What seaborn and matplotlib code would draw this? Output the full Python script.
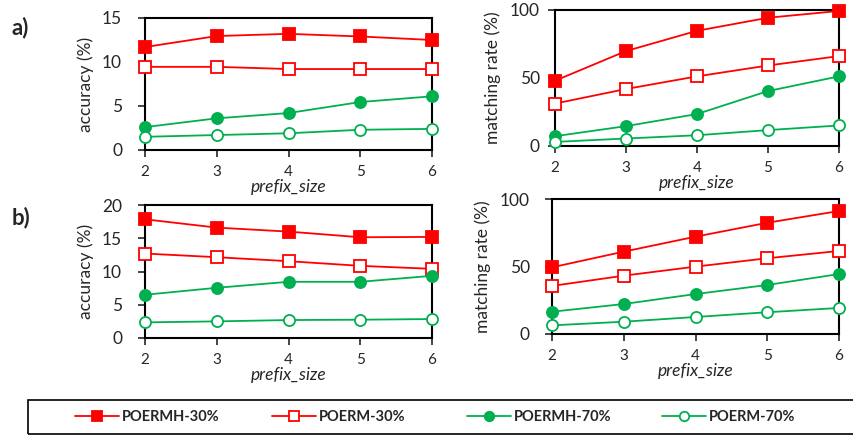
import seaborn as sns
import matplotlib.pyplot as plt
from matplotlib.patches import Rectangle

prefix_size = [2, 3, 4, 5, 6]
series_names = ['POERMH-30%', 'POERM-30%', 'POERMH-70%', 'POERM-70%']

# a) accuracy / matching rate
acc_a = {
    'POERMH-30%': [11.7, 12.95, 13.2, 12.9, 12.5],
    'POERM-30%': [9.45, 9.45, 9.2, 9.2, 9.2],
    'POERMH-70%': [2.6, 3.6, 4.2, 5.45, 6.1],
    'POERM-70%': [1.5, 1.7, 1.9, 2.3, 2.4],
}
match_a = {
    'POERMH-30%': [48, 69.8, 84.7, 94.3, 99.3],
    'POERM-30%': [31.2, 41.9, 51.2, 59.2, 66.1],
    'POERMH-70%': [7.2, 14.6, 23.5, 40.4, 51.2],
    'POERM-70%': [3, 5.5, 7.9, 11.7, 15.1],
}
# b) accuracy / matching rate
acc_b = {
    'POERMH-30%': [17.85, 16.6, 16.0, 15.15, 15.2],
    'POERM-30%': [12.7, 12.15, 11.55, 10.85, 10.4],
    'POERMH-70%': [6.5, 7.55, 8.45, 8.45, 9.35],
    'POERM-70%': [2.35, 2.5, 2.7, 2.75, 2.85],
}
match_b = {
    'POERMH-30%': [49.4, 61, 72.1, 82.4, 91.1],
    'POERM-30%': [35.6, 43.2, 49.9, 56.1, 61.5],
    'POERMH-70%': [16.5, 22.2, 29.6, 36.3, 44.4],
    'POERM-70%': [6.4, 9.1, 12.6, 16.1, 19.3],
}

RED = '#FF0000'
GREEN = '#00B050'
styles = {
    'POERMH-30%': dict(color=RED, marker='s', mfc=RED, ms=8),
    'POERM-30%': dict(color=RED, marker='s', mfc='white', ms=8),
    'POERMH-70%': dict(color=GREEN, marker='o', mfc=GREEN, ms=8),
    'POERM-70%': dict(color=GREEN, marker='o', mfc='white', ms=8),
}

sns.set_style("ticks")
plt.rcParams['font.family'] = ['Lato', 'DejaVu Sans']

W, H = 854, 437
fig = plt.figure(figsize=(W / 100, H / 100), dpi=100)


def add_axes(x0, y0, x1, y1):
    # pixel box (top-left origin) -> figure fraction
    return fig.add_axes([x0 / W, 1 - y1 / H, (x1 - x0) / W, (y1 - y0) / H])


def draw_panel(ax, data, ymax, ystep, ylabel, ypad):
    for name in series_names:
        st = styles[name]
        sns.lineplot(x=prefix_size, y=data[name], ax=ax, color=st['color'],
                     marker=st['marker'], markersize=st['ms'],
                     markerfacecolor=st['mfc'], markeredgecolor=st['color'],
                     markeredgewidth=1.3, linewidth=1.3, label=name,
                     legend=False, clip_on=False, zorder=3)
    ax.set_xlim(2, 6)
    ax.set_ylim(0, ymax)
    ax.set_xticks(prefix_size)
    ax.set_yticks(range(0, ymax + 1, ystep))
    ax.tick_params(axis='x', labelsize=11, length=5, width=1.2, pad=6)
    ax.tick_params(axis='y', labelsize=12.5, length=5, width=1.2, pad=ypad)
    for s in ax.spines.values():
        s.set_linewidth(1.5)
        s.set_color('black')
    ax.set_xlabel('prefix_size', fontsize=12.5, style='italic', labelpad=0)
    ax.set_ylabel(ylabel, fontsize=12.5, labelpad=6)


ax1 = add_axes(145, 18, 432, 150)
draw_panel(ax1, acc_a, 15, 5, 'accuracy (%)', 11.5)
ax2 = add_axes(555, 10, 839, 146)
draw_panel(ax2, match_a, 100, 50, 'matching rate (%)', 6)
ax3 = add_axes(145, 205, 432, 338)
draw_panel(ax3, acc_b, 20, 5, 'accuracy (%)', 11.5)
ax4 = add_axes(552, 199, 839, 334)
draw_panel(ax4, match_b, 100, 50, 'matching rate (%)', 11)

fig.text(12 / W, 1 - 28 / H, 'a)', fontsize=16, fontweight='bold', va='center')
fig.text(12 / W, 1 - 218 / H, 'b)', fontsize=16, fontweight='bold', va='center')

# legend frame
fig.patches.append(Rectangle((28 / W, 1 - 434 / H), 840 / W, 34 / H,
                             transform=fig.transFigure, fill=False,
                             edgecolor='black', linewidth=1.2))
# one legend per entry so the columns sit at even spacing like the original
handles, labels = ax1.get_legend_handles_labels()
entry_x = [75, 272, 467, 662]
for h, lab, x in zip(handles, labels, entry_x):
    fig.legend([h], [lab], loc='center left', bbox_to_anchor=(x / W, 1 - 417 / H),
               frameon=False, borderpad=0, borderaxespad=0, handlelength=3.0,
               handletextpad=0.2, markerscale=0.85,
               prop={'weight': 'bold', 'size': 10.5})

plt.savefig('out.png', dpi=100)
plt.close()
